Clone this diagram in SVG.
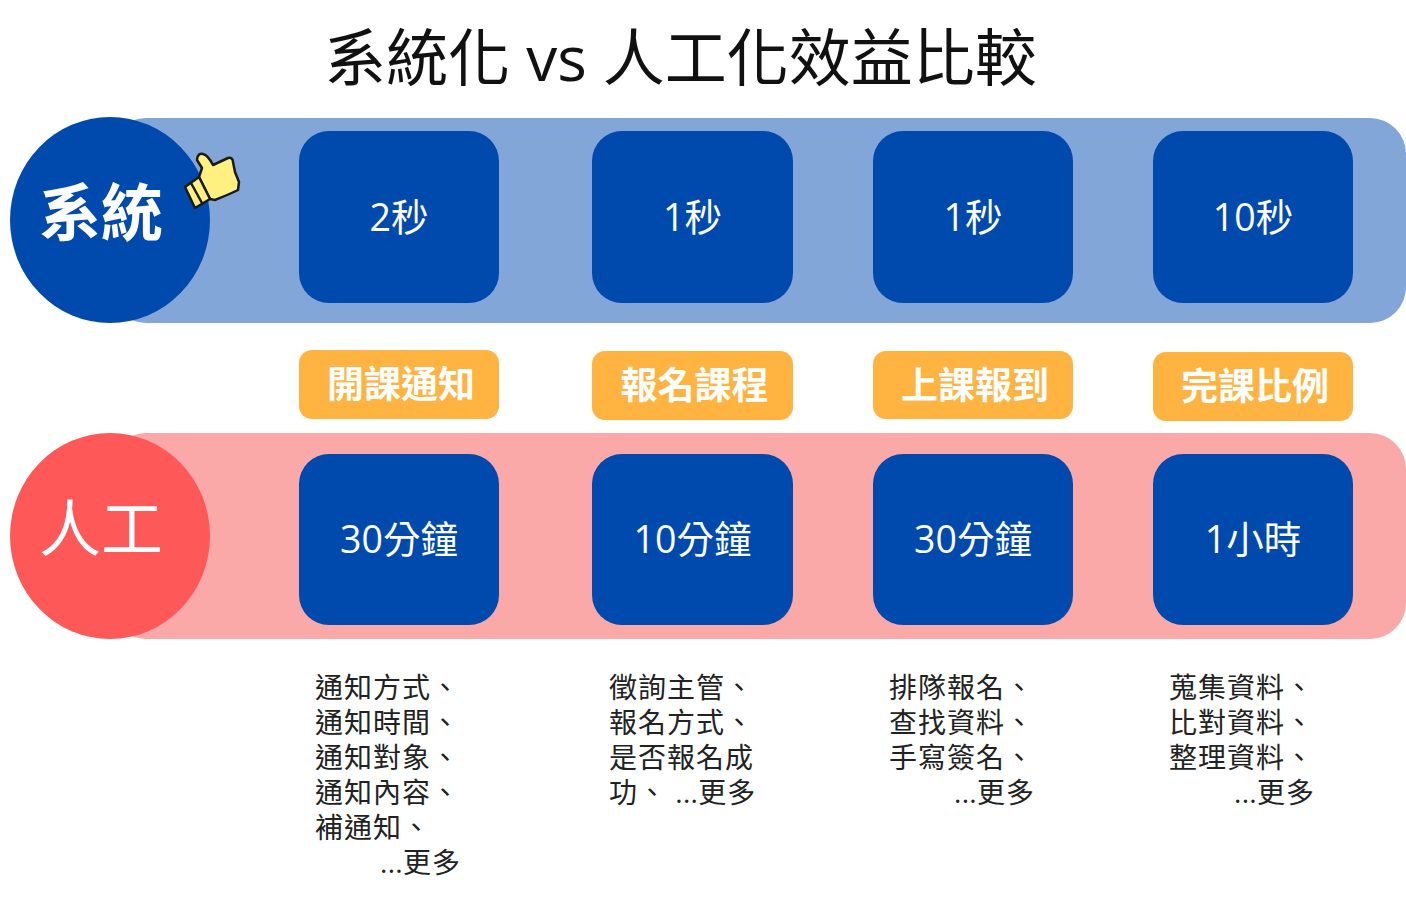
<svg xmlns="http://www.w3.org/2000/svg" width="1406" height="913" viewBox="0 0 1406 913">
<style>
text{font-family:"Open Sans","Noto Sans CJK TC",sans-serif}
.box{fill:#0049ad}
.val{fill:#fff;font-size:37.500px;text-anchor:middle}
.tag{fill:#ffb340}
.tl{fill:#fff;font-size:37px;font-weight:700;text-anchor:middle}
.note{fill:#222;font-size:28px;letter-spacing:1px}
.dots{letter-spacing:.3px}
.cl{fill:#fff;font-size:62px;text-anchor:middle}
.th{fill:#fff07f;stroke:#1a1a1a;stroke-width:2.500;stroke-linejoin:round}
</style>
<rect width="1406" height="913" fill="#fff"/>
<text id="title" x="680.500" y="80.500" font-size="62" font-weight="400" text-anchor="middle" fill="#111">系統化 vs 人工化效益比較</text>
<g id="band-system"><rect x="110" y="118" width="1296" height="205" rx="36" fill="#82a6d7"/><ellipse cx="110" cy="220" rx="100" ry="103" fill="#0049ad"/><text class="cl" x="101" y="236" font-weight="700">系統</text></g>
<g id="thumb"><path class="th" d="M199 177 L202 168 L197 160 C197 155 200 153 203 154 C207 155 210 159 213 165 L228 158 C231 157 233 159 233 162 L235 172 L239 182 L238 190 C230 194 222 197 215 200 L210 199 Z"/><path class="th" d="M185 187 L199 177 L210 199 L195 208 Z"/><path d="M191 183 L202 203" fill="none" stroke="#1a1a1a" stroke-width="2.500"/></g>
<g id="band-manual"><rect x="110" y="433" width="1296" height="206" rx="36" fill="#fba8a9"/><ellipse cx="110" cy="536" rx="100" ry="103" fill="#ff5858"/><text class="cl" x="101" y="552" font-weight="400">人工</text></g>
<g id="s1"><rect class="box" x="299" y="131" width="200" height="172" rx="30"/><text class="val" x="399" y="230.500">2秒</text></g>
<g id="s2"><rect class="box" x="592" y="131" width="201" height="172" rx="30"/><text class="val" x="692.500" y="230.500">1秒</text></g>
<g id="s3"><rect class="box" x="873" y="131" width="200" height="172" rx="30"/><text class="val" x="973" y="230.500">1秒</text></g>
<g id="s4"><rect class="box" x="1153" y="131" width="200" height="172" rx="30"/><text class="val" x="1253" y="230.500">10秒</text></g>
<g id="t1"><rect class="tag" x="299" y="350" width="200" height="69" rx="13"/><text class="tl" x="401" y="398">開課通知</text></g>
<g id="t2"><rect class="tag" x="592" y="351" width="201" height="69" rx="13"/><text class="tl" x="694.500" y="399">報名課程</text></g>
<g id="t3"><rect class="tag" x="873" y="351" width="200" height="68" rx="13"/><text class="tl" x="975" y="399">上課報到</text></g>
<g id="t4"><rect class="tag" x="1153" y="352" width="200" height="69" rx="13"/><text class="tl" x="1255" y="400">完課比例</text></g>
<g id="m1"><rect class="box" x="299" y="454" width="200" height="171" rx="30"/><text class="val" x="399" y="553">30分鐘</text></g>
<g id="m2"><rect class="box" x="592" y="454" width="201" height="171" rx="30"/><text class="val" x="692.500" y="553">10分鐘</text></g>
<g id="m3"><rect class="box" x="873" y="454" width="200" height="171" rx="30"/><text class="val" x="973" y="553">30分鐘</text></g>
<g id="m4"><rect class="box" x="1153" y="454" width="200" height="171" rx="30"/><text class="val" x="1253" y="553">1小時</text></g>
<g id="n1"><text class="note" x="315" y="698">通知方式、</text><text class="note" x="315" y="733">通知時間、</text><text class="note" x="315" y="768">通知對象、</text><text class="note" x="315" y="803">通知內容、</text><text class="note" x="315" y="838">補通知、</text><text class="note" x="380" y="873"><tspan class="dots">...</tspan>更多</text></g>
<g id="n2"><text class="note" x="609" y="698">徵詢主管、</text><text class="note" x="609" y="733">報名方式、</text><text class="note" x="609" y="768">是否報名成</text><text class="note" x="609" y="803">功、 <tspan class="dots">...</tspan>更多</text></g>
<g id="n3"><text class="note" x="889" y="698">排隊報名、</text><text class="note" x="889" y="733">查找資料、</text><text class="note" x="889" y="768">手寫簽名、</text><text class="note" x="954" y="803"><tspan class="dots">...</tspan>更多</text></g>
<g id="n4"><text class="note" x="1169" y="698">蒐集資料、</text><text class="note" x="1169" y="733">比對資料、</text><text class="note" x="1169" y="768">整理資料、</text><text class="note" x="1234" y="803"><tspan class="dots">...</tspan>更多</text></g>
<g id="connectors"/>
</svg>
